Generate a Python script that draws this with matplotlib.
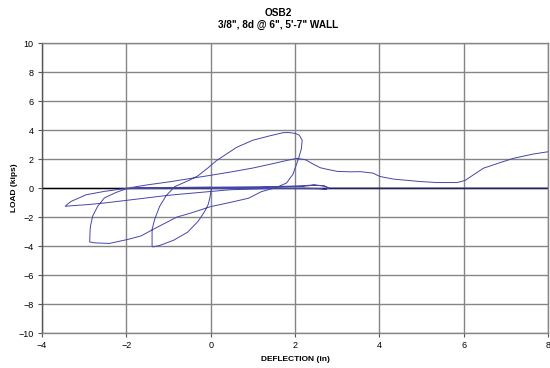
import matplotlib
matplotlib.use("Agg")
import matplotlib.pyplot as plt

plt.rcParams['font.family'] = ['Liberation Sans', 'DejaVu Sans']

# cyclic test record: deflection (in) vs load (kips)
deflection = [
    0.0, 1.0, 2.2, 2.45, 2.7, 2.78, 2.7, 2.6, 1.5, 0.0, -1.0, -1.8, -1.0, 0.0,
    0.02, 0.0, -0.02, -0.06, -0.15, -0.3, -0.55, -0.88, -1.2, -1.37,
    -1.39, -1.39, -1.33, -1.21, -1.05, -0.85, -0.5, -0.3, -0.06, 0.14, 0.35,
    0.61, 1.0, 1.4, 1.72, 1.85, 2.0, 2.1, 2.17, 2.15, 2.1, 2.03, 1.95, 1.8,
    1.56, 1.2, 0.9, 0.45, 0.0, -0.5, -0.8, -1.3, -1.65, -1.96, -2.4, -2.75,
    -2.87, -2.86, -2.85, -2.8, -2.68, -2.52, -2.24, -2.0,
    -1.5, 0.0, 1.5, 2.2, 2.45, 2.68, 2.8, 2.74, 2.62, 2.2, 1.6, 0.45,
    -0.86, -1.09, -2.0, -2.52, -2.91, -3.3, -3.45, -3.4, -3.31, -2.95, -2.52,
    -2.0, -1.5, -1.0, -0.5, 0.0, 0.5, 1.0, 1.5, 1.8, 2.05,
    2.25, 2.45, 2.6, 2.75, 3.0, 3.3, 3.55, 3.85, 4.01, 4.33, 4.96, 5.36,
    5.84, 6.03, 6.23, 6.47, 6.86, 7.18, 7.66, 7.97, 8.3, 8.3, 2.8,
]
load = [
    0.0, 0.03, 0.12, 0.2, 0.14, 0.0, -0.1, -0.05, -0.02, -0.02, -0.02, 0.0, 0.04, 0.05,
    0.0, -0.34, -0.68, -1.14, -1.65, -2.3, -3.05, -3.6, -3.95, -4.06,
    -4.0, -2.86, -2.17, -1.26, -0.5, 0.1, 0.55, 0.85, 1.4, 1.9, 2.3,
    2.8, 3.3, 3.6, 3.82, 3.83, 3.77, 3.65, 3.3, 2.7, 2.2, 1.6, 0.95, 0.35,
    0.04, -0.25, -0.7, -1.0, -1.28, -1.75, -2.0, -2.75, -3.3, -3.54, -3.82, -3.78,
    -3.72, -2.9, -2.63, -1.94, -1.26, -0.68, -0.3, -0.05,
    0.02, 0.06, 0.1, 0.16, 0.22, 0.15, 0.02, -0.1, -0.05, 0.0, -0.01, -0.12,
    -0.46, -0.53, -0.85, -1.03, -1.14, -1.22, -1.26, -1.12, -0.92, -0.46, -0.23,
    -0.02, 0.22, 0.42, 0.65, 0.88, 1.12, 1.38, 1.7, 1.9, 2.05,
    1.95, 1.62, 1.4, 1.3, 1.15, 1.12, 1.13, 1.03, 0.8, 0.62, 0.45, 0.38,
    0.38, 0.52, 0.91, 1.37, 1.75, 2.05, 2.35, 2.49, 2.6, 0.0, 0.0,
]

x_ticks = [-4, -2, 0, 2, 4, 6, 8]
y_ticks = [-10, -8, -6, -4, -2, 0, 2, 4, 6, 8, 10]

fig = plt.figure(figsize=(5.5, 3.68), dpi=100)
ax = fig.add_axes([0.0764, 0.095, 0.92, 0.788])

grid_col = '#858585'
for xv in x_ticks:
    ax.axvline(xv, color=grid_col, lw=1.0, zorder=1)
for yv in y_ticks:
    ax.axhline(yv, color=grid_col, lw=1.0, zorder=1)
ax.axhline(0, color='black', lw=1.0, zorder=2)

ax.plot(deflection, load, color='#4646aa', lw=0.7, zorder=3)

ax.set_xlim(-4, 8)
ax.set_ylim(-10, 10)
ax.set_xticks(x_ticks)
ax.set_yticks(y_ticks)
ax.tick_params(labelsize=6.5, length=3, width=0.8, color='#555555', pad=3)
for s in ax.spines.values():
    s.set_color(grid_col)
    s.set_linewidth(1.0)
ax.spines['left'].set_color('#555555')

ax.set_xlabel('DEFLECTION (in)', fontsize=6, fontweight='bold', labelpad=4)
ax.set_ylabel('LOAD (kips)', fontsize=6, fontweight='bold', labelpad=0)

fig.text(0.506, 0.965, 'OSB2', ha='center', va='center', fontsize=7.2, fontweight='bold')
fig.text(0.506, 0.932, '3/8", 8d @ 6", 5\'-7" WALL', ha='center', va='center',
         fontsize=7.2, fontweight='bold')

fig.savefig('out.png', dpi=100, facecolor='white')
